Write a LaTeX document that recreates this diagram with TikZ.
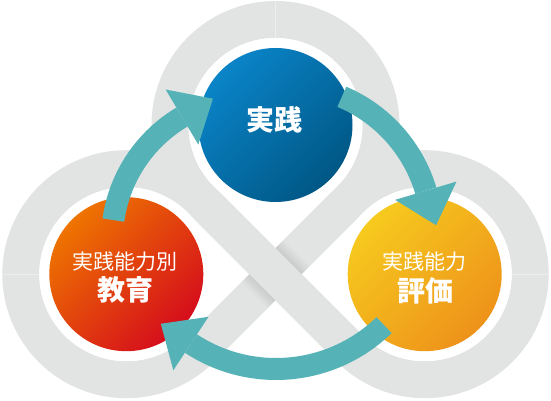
\documentclass[tikz,border=0pt]{standalone}
\usepackage{fontspec}
\newfontfamily\cjk{Noto Sans CJK JP}
\usetikzlibrary{calc}
\definecolor{ringgray}{HTML}{E2E3E3}
\definecolor{seam}{HTML}{ECEDED}
\definecolor{arrowteal}{HTML}{55B3B7}
\definecolor{blueA}{HTML}{0A84C8}
\definecolor{blueB}{HTML}{005785}
\definecolor{redA}{HTML}{EE7400}
\definecolor{redB}{HTML}{D50C1C}
\definecolor{yelA}{HTML}{F6CA1E}
\definecolor{yelB}{HTML}{EE921A}
\tikzset{
  ribbon/.style={draw=ringgray, line width=37pt, line cap=butt},
  rim/.style={circle, fill=white, minimum size=174pt, inner sep=0pt},
  disc/.style={circle, minimum size=154pt, inner sep=0pt},
  abody/.style={draw=arrowteal, line width=22pt, line cap=butt},
  ahead/.style={fill=arrowteal},
  bigtxt/.style={text=white, inner sep=0pt, font=\cjk\bfseries\fontsize{28pt}{28pt}\selectfont},
  smalltxt/.style={text=white, inner sep=0pt, font=\cjk\fontsize{21pt}{21pt}\selectfont},
}
\begin{document}
\begin{tikzpicture}[x=1pt,y=1pt]
\useasboundingbox (0,0) rectangle (551,401);
\fill[white] (0,0) rectangle (551,401);
% centres
\coordinate (T) at (275.5,276);
\coordinate (L) at (126.3,126.8);
\coordinate (R) at (424.7,126.8);
\coordinate (P1) at ($(T)+(225:105.5pt)$);
\coordinate (P2) at ($(T)+(-45:105.5pt)$);
\coordinate (Lq) at ($(L)+(-45:105.5pt)$);
\coordinate (Rq) at ($(R)+(225:105.5pt)$);
% gray ribbon
\draw[ribbon] (P1) arc[start angle=225, end angle=-45, radius=105.5pt]
  -- (Lq) arc[start angle=-45, end angle=-315, radius=105.5pt]
  -- (Rq) arc[start angle=225, end angle=495, radius=105.5pt];
% shadow of upper band on lower band
\begin{scope}
  \clip ($(P2)+(-45:18.5pt)$) -- ($(P2)+(135:18.5pt)$) -- ($(Lq)+(135:18.5pt)$) -- ($(Lq)+(-45:18.5pt)$) -- cycle;
  \foreach \w in {39,42,45,48,51,54,57,60}
    \draw[black, opacity=0.011, line width=\w pt] (P1) -- (Rq);
\end{scope}
\draw[ribbon] (P1) -- (Rq);
% seams
\draw[seam, line width=0.6pt] ($(T)+(90:87pt)$) -- ($(T)+(90:124pt)$);
\draw[seam, line width=0.6pt] ($(L)+(180:87pt)$) -- ($(L)+(180:124pt)$);
\draw[seam, line width=0.6pt] ($(R)+(0:87pt)$) -- ($(R)+(0:124pt)$);
% circles
\node[rim] (rimT) at (T) {};
\node[rim] (rimL) at (L) {};
\node[rim] (rimR) at (R) {};
\node[disc, top color=blueA, bottom color=blueB, shading angle=45] (jissen) at (T) {};
\node[disc, top color=redA, bottom color=redB, shading angle=45] (kyoiku) at (L) {};
\node[disc, top color=yelA, bottom color=yelB, shading angle=45] (hyoka) at (R) {};
% labels
\node[bigtxt] (tJ) at (274.5,281) {実践};
\node[smalltxt] (tL1) at (124.5,139) {実践能力別};
\node[bigtxt] (tL2) at (125,111) {教育};
\node[smalltxt] (tR1) at (424,139) {実践能力};
\node[bigtxt] (tR2) at (425,110) {評価};
% arrows
\coordinate (A1) at (255,161);
\coordinate (A2) at (284,168);
\coordinate (A3) at (276,187);
\draw[abody] ($(A1)+(172:143pt)$) arc[start angle=172, end angle=120.7, radius=143pt];
\fill[ahead] ($(A1)+(120.7:111pt)$) -- ($(A1)+(120.7:175pt)$) -- ($(A1)+(120.7:143pt)+(30.7:36pt)$) -- cycle;
\draw[abody] ($(A2)+(67:148pt)$) arc[start angle=67, end angle=16.6, radius=148pt];
\fill[ahead] ($(A2)+(16.6:116pt)$) -- ($(A2)+(16.6:180pt)$) -- ($(A2)+(16.6:148pt)+(-73.4:36pt)$) -- cycle;
\draw[abody] ($(A3)+(-45.8:155pt)$) arc[start angle=-45.8, end angle=-123.3, radius=155pt];
\fill[ahead] ($(A3)+(-123.3:123pt)$) -- ($(A3)+(-123.3:187pt)$) -- ($(A3)+(-123.3:155pt)+(146.7:36pt)$) -- cycle;
\end{tikzpicture}
\end{document}
